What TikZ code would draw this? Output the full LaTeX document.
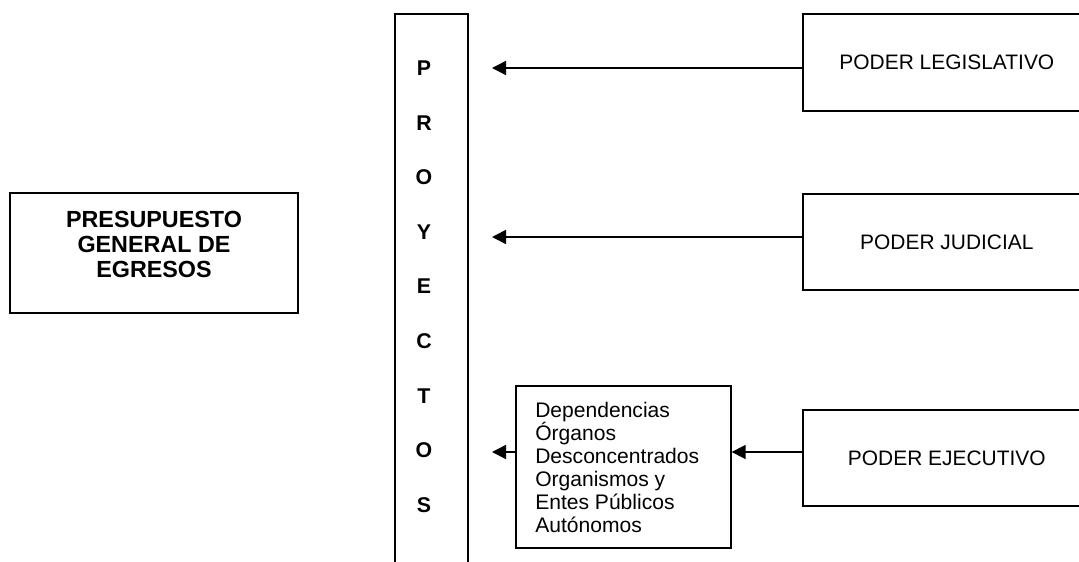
\documentclass[tikz,border=0pt]{standalone}
\usepackage{fontspec}
\setmainfont{Liberation Sans}
\usetikzlibrary{arrows.meta}
\tikzset{
  box/.style={draw, line width=1.25pt, inner sep=0pt},
  arr/.style={line width=1.25pt, -{Triangle[length=10.5pt,width=10.5pt]}},
  txt/.style={font=\fontsize{15.7}{17.5}\selectfont},
  letter/.style={font=\fontsize{16}{18}\selectfont\bfseries, inner sep=0pt}
}
\begin{document}
\begin{tikzpicture}[x=0.75pt,y=-0.75pt]
\useasboundingbox (0,0) rectangle (1079,561);
\clip (0,0) rectangle (1079,561);
% left box
\node[box, minimum width=216pt, minimum height=90pt] (pge) at (154,253) {};
\node[align=center, inner sep=0pt,
      font=\fontsize{17.5}{18.75}\selectfont\bfseries] (pgetxt) at (154,244)
  {PRESUPUESTO\\GENERAL DE\\EGRESOS};
% tall box (cut off at bottom)
\node[box, minimum width=54.75pt, minimum height=450pt, anchor=north west] (proy) at (394,13) {};
\foreach \l/\y/\n in {P/68/a,R/123/b,O/177/c,Y/232/d,E/286/e,C/341/f,T/396/g,O/450/h,S/505/i}
  \node[letter] (let\n) at (424,\y) {\l};
% right boxes
\node[box, minimum width=216pt, minimum height=72.75pt, anchor=north west, txt] (leg) at (802,13) {PODER LEGISLATIVO};
\node[box, minimum width=216pt, minimum height=72pt, anchor=north west, txt] (jud) at (802,193) {PODER JUDICIAL};
\node[box, minimum width=216pt, minimum height=72pt, anchor=north west, txt] (eje) at (802,409) {PODER EJECUTIVO};
% small box
\node[box, minimum width=161.25pt, minimum height=121.5pt, anchor=north west] (dep) at (515,385) {};
\node[anchor=north west, align=left, inner sep=0pt, font=\fontsize{15.8}{17.25}\selectfont] (deptxt) at (535,402)
  {Dependencias\\Órganos\\Desconcentrados\\Organismos y\\Entes Públicos\\Autónomos};
% arrow targets
\coordinate (tL) at (492,68);
\coordinate (tJ) at (492,237);
\coordinate (tE) at (492,452);
\draw[arr] (leg.west |- tL) -- (tL);
\draw[arr] (jud.west |- tJ) -- (tJ);
\draw[arr] (eje.west |- tE) -- (dep.east |- tE);
\draw[arr] (dep.west |- tE) -- (tE);
\end{tikzpicture}
\end{document}
